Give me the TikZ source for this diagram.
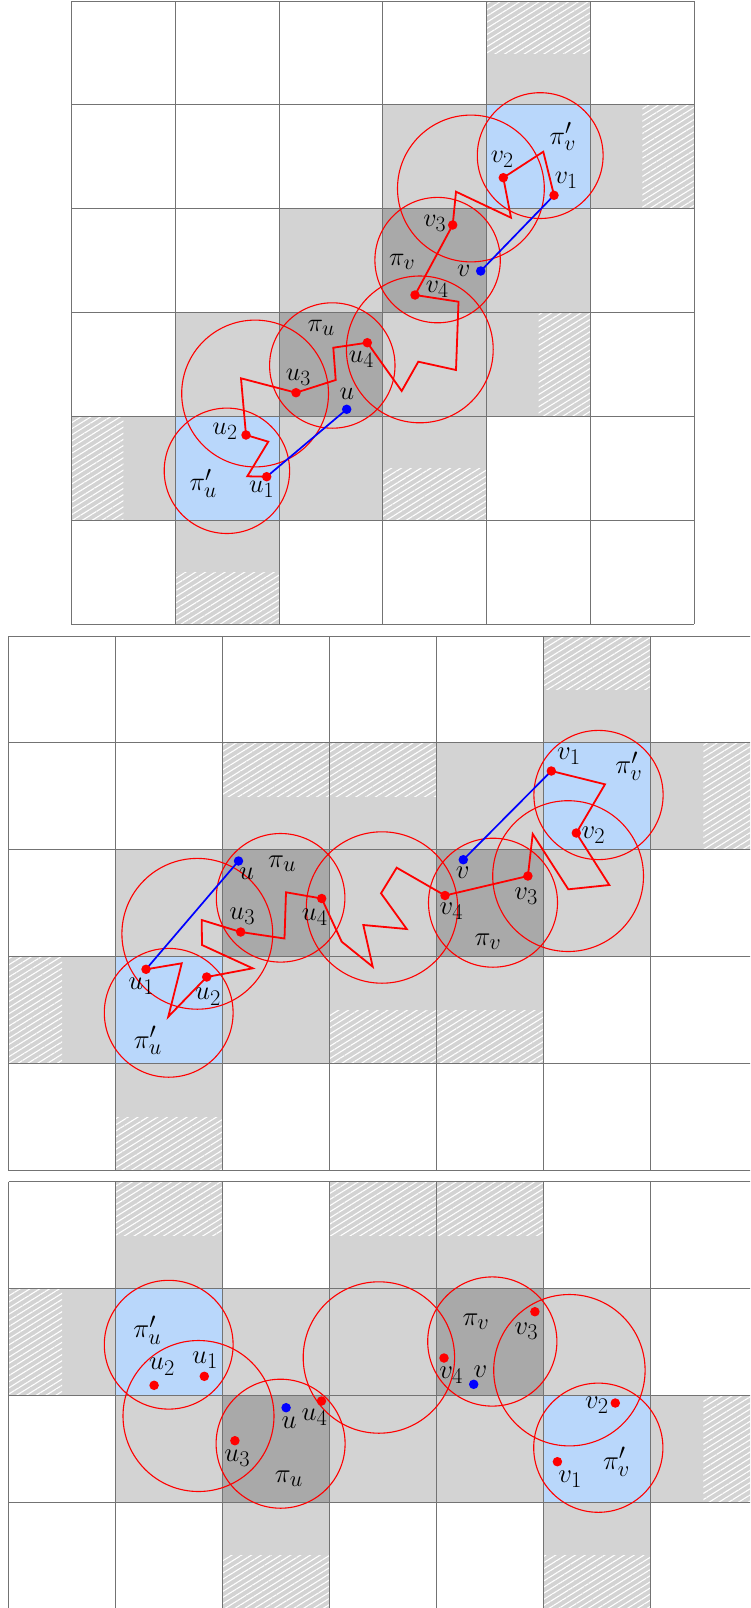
\RequirePackage{fix-cm}
\documentclass[tikz,border=0pt]{standalone}
\usetikzlibrary{patterns.meta}
\definecolor{lg}{RGB}{211,211,211}
\definecolor{dg}{RGB}{169,169,169}
\definecolor{lb}{RGB}{185,215,251}
\definecolor{gl}{RGB}{115,115,115}
\newcommand\mylabA[1]{\scalebox{1.05}{$#1$}}
\newcommand\mylabB[1]{\scalebox{1.08}{$#1$}}
\tikzset{
  cellL/.style={fill=lg},
  cellD/.style={fill=dg},
  cellB/.style={fill=lb},
  hatch/.style={pattern={Lines[angle=32,distance=5.2pt,line width=1.1pt]}, pattern color=white},
  gridln/.style={draw=gl, line width=1pt},
  disk/.style={draw=red, line width=1.1pt},
  walk/.style={draw=red, line width=1.8pt, line join=miter},
  link/.style={draw=blue, line width=1.7pt},
  rdot/.style={circle, fill=red, inner sep=0pt, minimum size=9.5pt},
  bdot/.style={circle, fill=blue, inner sep=0pt, minimum size=9.5pt},
  lab/.style={inner sep=0pt, font=\Huge},
}
\begin{document}
\begin{tikzpicture}[x=1pt, y=-1pt]
\useasboundingbox (0,0) rectangle (750,1608);
\clip (0,0) rectangle (750,1608);

% ================= PANEL 1 =================
\begin{scope}[shift={(71.4,1.2)}, x=103.8pt, y=-103.8pt]
  \foreach \c/\r in {4/0,3/1,5/1,2/2,4/2,1/3,3/3,4/3,0/4,2/4,3/4,1/5}
    \fill[cellL] (\c,\r) rectangle ++(1,1);
  \foreach \c/\r in {3/2,2/3} \fill[cellD] (\c,\r) rectangle ++(1,1);
  \foreach \c/\r in {4/1,1/4} \fill[cellB] (\c,\r) rectangle ++(1,1);
  \fill[hatch] (4,0) rectangle (5,0.5);
  \fill[hatch] (5.5,1) rectangle (6,2);
  \fill[hatch] (4.5,3) rectangle (5,4);
  \fill[hatch] (0,4) rectangle (0.5,5);
  \fill[hatch] (3,4.5) rectangle (4,5);
  \fill[hatch] (1,5.5) rectangle (2,6);
  \foreach \i in {0,...,6} {
    \draw[gridln] (\i,0) -- (\i,6);
    \draw[gridln] (0,\i) -- (6,\i);
  }
\end{scope}
\draw[disk] (226.9,470.8) circle (62.7);
\draw[disk] (255.1,393.5) circle (73.4);
\draw[disk] (332.3,365.5) circle (62.7);
\draw[disk] (419.8,349.4) circle (73.4);
\draw[disk] (437.6,260.1) circle (62.7);
\draw[disk] (470.9,188.5) circle (73.4);
\draw[disk] (540.2,155.6) circle (62.9);

\coordinate (aU1) at (266.7,476.7);
\coordinate (aU2) at (246,435);
\coordinate (aU3) at (296,392.7);
\coordinate (aU4) at (367.3,342.7);
\coordinate (aU) at (346.7,409.3);
\coordinate (aV1) at (554,195.3);
\coordinate (aV2) at (503.3,177.7);
\coordinate (aV3) at (452.7,225);
\coordinate (aV4) at (415,295);
\coordinate (aV) at (480.7,271);

\draw[walk] (aV1) -- (543.3,151.7) -- (aV2) -- (511,217.7) -- (456,191.7) -- (aV3)
  -- (aV4) -- (458.5,301.7) -- (456,370) -- (418.3,361.7) -- (401.7,391) -- (aU4)
  -- (333.3,347.7) -- (335.7,380) -- (aU3) -- (241,378.3) -- (aU2)
  -- (268.3,441.7) -- (247.3,476.3) -- (aU1);
\draw[link] (aU) -- (aU1);
\draw[link] (aV) -- (aV1);
\foreach \p in {aU1,aU2,aU3,aU4,aV1,aV2,aV3,aV4} \node[rdot] (d\p) at (\p) {};
\foreach \p in {aU,aV} \node[bdot] (d\p) at (\p) {};

\node[lab] (aLpvp) at (562.8,136.7) {\mylabA{\pi'_v}};
\node[lab] (aLv2) at (502.2,159.2) {\mylabA{v_2}};
\node[lab] (aLv1) at (566.2,180.5) {\mylabA{v_1}};
\node[lab] (aLv3) at (434.7,223.8) {\mylabA{v_3}};
\node[lab] (aLpv) at (402.2,261.7) {\mylabA{\pi_v}};
\node[lab] (aLv) at (463.8,270.8) {\mylabA{v}};
\node[lab] (aLv4) at (437.2,289.5) {\mylabA{v_4}};
\node[lab] (aLpu) at (321.2,327.5) {\mylabA{\pi_u}};
\node[lab] (aLu4) at (361.3,359.2) {\mylabA{u_4}};
\node[lab] (aLu3) at (298.3,377) {\mylabA{u_3}};
\node[lab] (aLu) at (347,394.2) {\mylabA{u}};
\node[lab] (aLu2) at (225,431.7) {\mylabA{u_2}};
\node[lab] (aLpup) at (203.3,483.3) {\mylabA{\pi'_u}};
\node[lab] (aLu1) at (261.7,489.2) {\mylabA{u_1}};

% ================= PANEL 2 =================
\begin{scope}[shift={(8.6,636)}, x=106.9pt, y=-106.9pt]
  \foreach \c/\r in {5/0,2/1,3/1,4/1,6/1,1/2,3/2,5/2,0/3,2/3,3/3,4/3,1/4}
    \fill[cellL] (\c,\r) rectangle ++(1,1);
  \foreach \c/\r in {2/2,4/2} \fill[cellD] (\c,\r) rectangle ++(1,1);
  \foreach \c/\r in {5/1,1/3} \fill[cellB] (\c,\r) rectangle ++(1,1);
  \fill[hatch] (5,0) rectangle (6,0.5);
  \fill[hatch] (2,1) rectangle (3,1.5);
  \fill[hatch] (3,1) rectangle (4,1.5);
  \fill[hatch] (6.5,1) rectangle (7,2);
  \fill[hatch] (0,3) rectangle (0.5,4);
  \fill[hatch] (3,3.5) rectangle (4,4);
  \fill[hatch] (4,3.5) rectangle (5,4);
  \fill[hatch] (1,4.5) rectangle (2,5);
  \foreach \i in {0,...,7} \draw[gridln] (\i,0) -- (\i,5);
  \foreach \j in {0,...,5} \draw[gridln] (0,\j) -- (7,\j);
\end{scope}
\draw[disk] (598.5,795) circle (64.6);
\draw[disk] (568.1,876.1) circle (75.4);
\draw[disk] (493,902.7) circle (64.5);
\draw[disk] (382,907.5) circle (75.7);
\draw[disk] (280.6,897.8) circle (64.3);
\draw[disk] (197.3,933.8) circle (75.4);
\draw[disk] (168.7,1012.8) circle (64.4);

\coordinate (bU1) at (146,969.3);
\coordinate (bU2) at (206.7,977);
\coordinate (bU3) at (240.7,932);
\coordinate (bU4) at (321.7,898.5);
\coordinate (bU) at (238.5,861);
\coordinate (bV1) at (551.3,771);
\coordinate (bV2) at (576.3,833);
\coordinate (bV3) at (527.9,876);
\coordinate (bV4) at (445,895.5);
\coordinate (bV) at (463.3,859.7);

\draw[walk] (bV1) -- (605,784.3) -- (bV2) -- (609.3,885) -- (568.3,889.3) -- (532.7,834)
  -- (bV3) -- (bV4) -- (396.7,867.7) -- (381,893.3) -- (406.7,929) -- (363.3,925)
  -- (372.7,966.7) -- (341.7,941.7) -- (bU4) -- (286,892.3) -- (284.5,938.5)
  -- (bU3) -- (201.7,920) -- (202,945) -- (252.7,968.3) -- (bU2)
  -- (168.3,1016.7) -- (181.7,963.3) -- (bU1);
\draw[link] (bU) -- (bU1);
\draw[link] (bV) -- (bV1);
\foreach \p in {bU1,bU2,bU3,bU4,bV1,bV2,bV3,bV4} \node[rdot] (d\p) at (\p) {};
\foreach \p in {bU,bV} \node[bdot] (d\p) at (\p) {};

\node[lab] (bLv1) at (568.8,756) {\mylabB{v_1}};
\node[lab] (bLpvp) at (628.8,766.2) {\mylabB{\pi'_v}};
\node[lab] (bLv2) at (593.3,835.3) {\mylabB{v_2}};
\node[lab] (bLv) at (462.7,872.5) {\mylabB{v}};
\node[lab] (bLv3) at (526.2,896.3) {\mylabB{v_3}};
\node[lab] (bLv4) at (451.3,911.2) {\mylabB{v_4}};
\node[lab] (bLpv) at (488,941.7) {\mylabB{\pi_v}};
\node[lab] (bLu) at (246.7,873.7) {\mylabB{u}};
\node[lab] (bLpu) at (282.2,863.3) {\mylabB{\pi_u}};
\node[lab] (bLu3) at (242.2,915.8) {\mylabB{u_3}};
\node[lab] (bLu4) at (314.7,917) {\mylabB{u_4}};
\node[lab] (bLu1) at (141.3,986.2) {\mylabB{u_1}};
\node[lab] (bLu2) at (208,996.7) {\mylabB{u_2}};
\node[lab] (bLpup) at (147.8,1040.3) {\mylabB{\pi'_u}};

% ================= PANEL 3 =================
\begin{scope}[shift={(8.6,1181.7)}, x=106.9pt, y=-106.9pt]
  \foreach \c/\r in {1/0,3/0,4/0,0/1,2/1,3/1,5/1,1/2,3/2,4/2,6/2,2/3,5/3}
    \fill[cellL] (\c,\r) rectangle ++(1,1);
  \foreach \c/\r in {4/1,2/2} \fill[cellD] (\c,\r) rectangle ++(1,1);
  \foreach \c/\r in {1/1,5/2} \fill[cellB] (\c,\r) rectangle ++(1,1);
  \fill[hatch] (1,0) rectangle (2,0.5);
  \fill[hatch] (3,0) rectangle (4,0.5);
  \fill[hatch] (4,0) rectangle (5,0.5);
  \fill[hatch] (0,1) rectangle (0.5,2);
  \fill[hatch] (6.5,2) rectangle (7,3);
  \fill[hatch] (2,3.5) rectangle (3,4);
  \fill[hatch] (5,3.5) rectangle (6,4);
  \foreach \i in {0,...,7} \draw[gridln] (\i,0) -- (\i,4);
  \foreach \j in {0,...,4} \draw[gridln] (0,\j) -- (7,\j);
\end{scope}
\draw[disk] (168.7,1344.7) circle (64.4);
\draw[disk] (198.5,1416) circle (75.5);
\draw[disk] (280.6,1443.7) circle (64.5);
\draw[disk] (378.9,1357.5) circle (75.7);
\draw[disk] (492.3,1341.5) circle (64.6);
\draw[disk] (569.4,1370.2) circle (75.7);
\draw[disk] (598.3,1447.7) circle (64.6);

\coordinate (cU1) at (204.3,1376.3);
\coordinate (cU2) at (154.1,1385.3);
\coordinate (cU3) at (234.9,1440.7);
\coordinate (cU4) at (321.5,1401);
\coordinate (cU) at (286.1,1407.7);
\coordinate (cV1) at (557.4,1461.7);
\coordinate (cV2) at (615.3,1403);
\coordinate (cV3) at (534.9,1311.7);
\coordinate (cV4) at (444,1358);
\coordinate (cV) at (473.7,1384.3);
\foreach \p in {cU1,cU2,cU3,cU4,cV1,cV2,cV3,cV4} \node[rdot] (d\p) at (\p) {};
\foreach \p in {cU,cV} \node[bdot] (d\p) at (\p) {};

\node[lab] (cLpup) at (147.4,1330) {\mylabB{\pi'_u}};
\node[lab] (cLu2) at (162,1366.7) {\mylabB{u_2}};
\node[lab] (cLu1) at (205,1360) {\mylabB{u_1}};
\node[lab] (cLpv) at (476,1321.3) {\mylabB{\pi_v}};
\node[lab] (cLv3) at (526.3,1331.3) {\mylabB{v_3}};
\node[lab] (cLv4) at (451.2,1375.3) {\mylabB{v_4}};
\node[lab] (cLv) at (480.4,1372) {\mylabB{v}};
\node[lab] (cLu) at (289,1422.3) {\mylabB{u}};
\node[lab] (cLu4) at (314.6,1417.5) {\mylabB{u_4}};
\node[lab] (cLv2) at (596.9,1405.3) {\mylabB{v_2}};
\node[lab] (cLu3) at (237.3,1458.3) {\mylabB{u_3}};
\node[lab] (cLpu) at (288.8,1478.3) {\mylabB{\pi_u}};
\node[lab] (cLpvp) at (616.5,1461.7) {\mylabB{\pi'_v}};
\node[lab] (cLv1) at (570.1,1479.2) {\mylabB{v_1}};
\end{tikzpicture}
\end{document}
